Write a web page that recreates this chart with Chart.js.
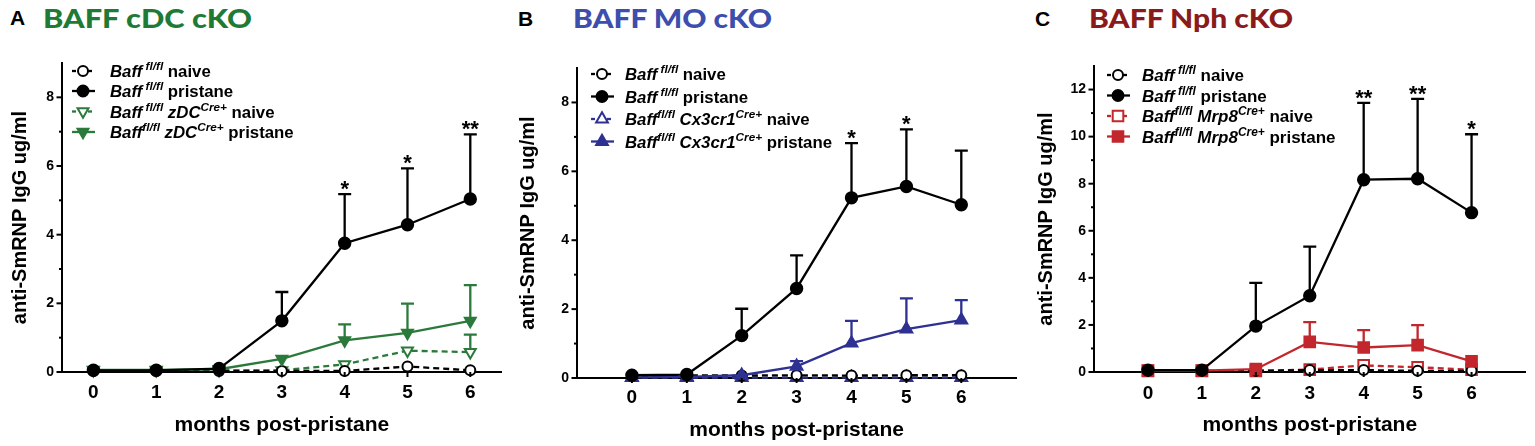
<!DOCTYPE html>
<html><head><meta charset="utf-8">
<script src="https://cdn.jsdelivr.net/npm/chart.js@4.4.1/dist/chart.umd.min.js"></script>
<style>
html,body{margin:0;padding:0;background:#fff;width:1535px;height:446px;overflow:hidden;position:relative}
canvas{position:absolute;top:0}
.lt{position:absolute;font-family:"Liberation Sans",Arial,sans-serif;font-weight:bold;font-size:21px;line-height:21px;color:#000;white-space:nowrap}
.tt{position:absolute;font-family:Lato,"Open Sans",sans-serif;font-weight:900;font-size:27px;line-height:27px;white-space:nowrap;transform-origin:0 0}
</style></head><body>
<div class="lt" style="left:10px;top:7px">A</div>
<div class="tt" id="tA" data-w="209" style="left:43px;top:4px;color:#1f7a36">BAFF cDC cKO</div>
<div class="lt" style="left:518px;top:8px">B</div>
<div class="tt" id="tB" data-w="199" style="left:573px;top:4px;color:#3d4eac">BAFF MO cKO</div>
<div class="lt" style="left:1035px;top:8px">C</div>
<div class="tt" id="tC" data-w="204" style="left:1089px;top:4px;color:#8b1a1a">BAFF Nph cKO</div>

<canvas id="cA" width="510" height="446" style="left:0px"></canvas>
<canvas id="cB" width="515" height="446" style="left:510px"></canvas>
<canvas id="cC" width="510" height="446" style="left:1025px"></canvas>

<script>
// ---------------- DATA ----------------
const months = [0, 1, 2, 3, 4, 5, 6];
const xTicks = [0, 1, 2, 3, 4, 5, 6];

// Panel A : BAFF cDC cKO
const A_wtNaive      = [0.03, 0.03, 0.03, 0.03, 0.03, 0.16, 0.05];
const A_wtNaiveErr   = [0, 0, 0, 0, 0, 0, 0];
const A_wtPristane   = [0.05, 0.05, 0.10, 1.49, 3.75, 4.29, 5.04];
const A_wtPristErr   = [0, 0, 0, 0.84, 1.43, 1.64, 1.88];
const A_koNaive      = [0.05, 0.05, 0.05, 0.05, 0.22, 0.62, 0.58];
const A_koNaiveErr   = [0, 0, 0, 0, 0, 0, 0.51];
const A_koPristane   = [0.06, 0.06, 0.08, 0.38, 0.92, 1.14, 1.49];
const A_koPristErr   = [0, 0, 0, 0, 0.47, 0.85, 1.04];
const A_stars        = ['', '', '', '', '*', '*', '**'];
const A_yMajor       = [0, 2, 4, 6, 8];
const A_yMinor       = [1, 3, 5, 7];

// Panel B : BAFF MO cKO
const B_wtNaive      = [0.08, 0.08, 0.07, 0.08, 0.07, 0.08, 0.08];
const B_wtNaiveErr   = [0, 0, 0, 0, 0, 0, 0];
const B_wtPristane   = [0.08, 0.10, 1.23, 2.60, 5.23, 5.56, 5.03];
const B_wtPristErr   = [0, 0, 0.78, 0.96, 1.59, 1.66, 1.57];
const B_koNaive      = [0.01, 0.01, 0.01, 0.01, 0.01, 0.01, 0.01];
const B_koNaiveErr   = [0, 0, 0, 0, 0, 0, 0];
const B_koPristane   = [0.02, 0.03, 0.08, 0.34, 1.01, 1.42, 1.68];
const B_koPristErr   = [0, 0, 0, 0.15, 0.65, 0.89, 0.58];
const B_stars        = ['', '', '', '', '*', '*', ''];
const B_yMajor       = [0, 2, 4, 6, 8];
const B_yMinor       = [1, 3, 5, 7];

// Panel C : BAFF Nph cKO
const C_wtNaive      = [0.05, 0.05, 0.05, 0.08, 0.08, 0.05, 0.05];
const C_wtNaiveErr   = [0, 0, 0, 0, 0, 0, 0];
const C_wtPristane   = [0.08, 0.08, 1.95, 3.24, 8.17, 8.21, 6.77];
const C_wtPristErr   = [0, 0, 1.84, 2.09, 3.26, 3.39, 3.33];
const C_koNaive      = [0.05, 0.05, 0.05, 0.10, 0.28, 0.20, 0.10];
const C_koNaiveErr   = [0, 0, 0, 0, 0, 0, 0];
const C_koPristane   = [0.06, 0.06, 0.12, 1.28, 1.04, 1.14, 0.45];
const C_koPristErr   = [0, 0, 0, 0.84, 0.74, 0.85, 0];
const C_stars        = ['', '', '', '', '**', '**', '*'];
const C_yMajor       = [0, 2, 4, 6, 8, 10, 12];
const C_yMinor       = [1, 3, 5, 7, 9, 11];

// Legend texts ([text, style]; i = italic, s = superscript italic, n = normal)
const A_legend = [
  [['Baff','i'],[' fl/fl','s'],[' naive','n']],
  [['Baff','i'],[' fl/fl','s'],[' pristane','n']],
  [['Baff','i'],[' fl/fl','s'],[' zDC','i'],['Cre+','s'],[' naive','n']],
  [['Baff','i'],['fl/fl','s'],[' zDC','i'],['Cre+','s'],[' pristane','n']]
];
const B_legend = [
  [['Baff','i'],[' fl/fl','s'],[' naive','n']],
  [['Baff','i'],[' fl/fl','s'],[' pristane','n']],
  [['Baff','i'],['fl/fl','s'],[' Cx3cr1','i'],['Cre+','s'],[' naive','n']],
  [['Baff','i'],['fl/fl','s'],[' Cx3cr1','i'],['Cre+','s'],[' pristane','n']]
];
const C_legend = [
  [['Baff','i'],[' fl/fl','s'],[' naive','n']],
  [['Baff','i'],[' fl/fl','s'],[' pristane','n']],
  [['Baff','i'],['fl/fl','s'],[' Mrp8','i'],['Cre+','s'],[' naive','n']],
  [['Baff','i'],['fl/fl','s'],[' Mrp8','i'],['Cre+','s'],[' pristane','n']]
];

const X_TITLE = 'months post-pristane';
const Y_TITLE = 'anti-SmRNP IgG ug/ml';

// ---------------- STYLE / LAYOUT ----------------
const FONT = '"Liberation Sans", Arial, sans-serif';
const GREEN = '#2b7a3b', BLUE = '#2e3192', RED = '#c1272d', BLACK = '#000000';
const LW = 2.3;

const panels = {
  cA: {
    color: GREEN, koStyle: 'triangle', koRot: 180, koR: 6.3,
    wtN: A_wtNaive, wtNE: A_wtNaiveErr, wtP: A_wtPristane, wtPE: A_wtPristErr,
    koN: A_koNaive, koNE: A_koNaiveErr, koP: A_koPristane, koPE: A_koPristErr,
    stars: A_stars, yMajor: A_yMajor, yMinor: A_yMinor, legend: A_legend, legSize: 16.8,
    xMin: -0.5, xMax: 6.5, yMax: 9,
    padTop: 63, padRight: 8, yW: 62, xH: 74, xTickPad: 9, xTitlePad: 8, yTitlePad: 8,
    legX: 83, legTX: 110, legY: [71, 91, 111.5, 132]
  },
  cB: {
    color: BLUE, koStyle: 'triangle', koRot: 0, koR: 6.8,
    wtN: B_wtNaive, wtNE: B_wtNaiveErr, wtP: B_wtPristane, wtPE: B_wtPristErr,
    koN: B_koNaive, koNE: B_koNaiveErr, koP: B_koPristane, koPE: B_koPristErr,
    stars: B_stars, yMajor: B_yMajor, yMinor: B_yMinor, legend: B_legend, legSize: 16.8,
    xMin: -1, xMax: 7, yMax: 9,
    padTop: 68, padRight: 7, yW: 67, xH: 68, xTickPad: 8.5, xTitlePad: 3, yTitlePad: 6,
    legX: 92, legTX: 115, legY: [74, 96.5, 119, 141.5]
  },
  cC: {
    color: RED, koStyle: 'rect', koRot: 0, koR: 7.5,
    wtN: C_wtNaive, wtNE: C_wtNaiveErr, wtP: C_wtPristane, wtPE: C_wtPristErr,
    koN: C_koNaive, koNE: C_koNaiveErr, koP: C_koPristane, koPE: C_koPristErr,
    stars: C_stars, yMajor: C_yMajor, yMinor: C_yMinor, legend: C_legend, legSize: 17,
    xMin: -1, xMax: 7, yMax: 13,
    padTop: 66, padRight: 8, yW: 69, xH: 74, xTickPad: 10, xTitlePad: 8, yTitlePad: 9.5,
    legX: 93, legTX: 117, legY: [75, 95.5, 116, 136.5]
  }
};

function pts(vals) { return months.map((m, i) => ({ x: m, y: vals[i] })); }

function drawMarker(ctx, style, rot, r, x, y, color, filled) {
  ctx.save();
  ctx.setLineDash([]);
  ctx.lineWidth = 2;
  ctx.strokeStyle = color;
  ctx.fillStyle = filled ? color : '#ffffff';
  Chart.helpers.drawPoint(ctx, { pointStyle: style, rotation: rot, radius: r, borderWidth: 2 }, x, y);
  ctx.restore();
}

const decor = {
  id: 'decor',
  beforeDatasetsDraw(chart) {
    const P = panels[chart.canvas.id];
    const { ctx, scales: { x, y } } = chart;
    const series = [[P.wtN, P.wtNE, BLACK], [P.koN, P.koNE, P.color], [P.koP, P.koPE, P.color], [P.wtP, P.wtPE, BLACK]];
    ctx.save();
    ctx.lineWidth = LW;
    ctx.setLineDash([]);
    series.forEach(([vals, errs, col]) => {
      ctx.strokeStyle = col;
      errs.forEach((e, i) => {
        if (!e) return;
        const px = x.getPixelForValue(months[i]);
        const p0 = y.getPixelForValue(vals[i]);
        const p1 = y.getPixelForValue(vals[i] + e);
        ctx.beginPath();
        ctx.moveTo(px, p0); ctx.lineTo(px, p1);
        ctx.moveTo(px - 6.5, p1); ctx.lineTo(px + 6.5, p1);
        ctx.stroke();
      });
    });
    ctx.restore();
  },
  afterDraw(chart) {
    const P = panels[chart.canvas.id];
    const { ctx, chartArea: ca, scales: { x, y } } = chart;
    ctx.save();
    ctx.strokeStyle = '#000';
    ctx.lineWidth = 2;
    ctx.setLineDash([]);
    // tick marks
    xTicks.forEach(v => {
      const px = x.getPixelForValue(v);
      ctx.beginPath(); ctx.moveTo(px, ca.bottom); ctx.lineTo(px, ca.bottom + 5); ctx.stroke();
    });
    P.yMajor.forEach(v => {
      const py = y.getPixelForValue(v);
      ctx.beginPath(); ctx.moveTo(ca.left - 5.5, py); ctx.lineTo(ca.left, py); ctx.stroke();
    });
    P.yMinor.forEach(v => {
      const py = y.getPixelForValue(v);
      ctx.beginPath(); ctx.moveTo(ca.left - 3, py); ctx.lineTo(ca.left, py); ctx.stroke();
    });
    // significance stars
    ctx.fillStyle = '#000';
    ctx.font = 'bold 22px ' + FONT;
    ctx.textAlign = 'center';
    ctx.textBaseline = 'alphabetic';
    P.stars.forEach((s, i) => {
      if (!s) return;
      const px = x.getPixelForValue(months[i]);
      const py = y.getPixelForValue(P.wtP[i] + P.wtPE[i]);
      ctx.fillText(s, px, py + 2);
    });
    // legend
    const styles = [
      { col: BLACK, st: 'circle', rot: 0, r: 5, fill: false, dash: true },
      { col: BLACK, st: 'circle', rot: 0, r: 5.5, fill: true, dash: false },
      { col: P.color, st: P.koStyle, rot: P.koRot, r: P.koR, fill: false, dash: true },
      { col: P.color, st: P.koStyle, rot: P.koRot, r: P.koR, fill: true, dash: false }
    ];
    ctx.textAlign = 'left';
    const fs = P.legSize, ss = fs * 0.7;
    P.legend.forEach((parts, k) => {
      const s = styles[k];
      const ly = P.legY[k];
      ctx.save();
      ctx.strokeStyle = s.col; ctx.lineWidth = LW;
      ctx.setLineDash(s.dash ? [4, 4] : []);
      ctx.beginPath(); ctx.moveTo(P.legX - 11, ly); ctx.lineTo(P.legX + 12, ly); ctx.stroke();
      ctx.restore();
      drawMarker(ctx, s.st, s.rot, s.r, P.legX, ly, s.col, s.fill);
      let tx = P.legTX;
      const base = ly + fs * 0.36;
      parts.forEach(([t, st]) => {
        if (st === 's') {
          ctx.font = 'italic bold ' + ss + 'px ' + FONT;
          ctx.fillText(t, tx, base - fs * 0.4);
        } else {
          ctx.font = (st === 'i' ? 'italic ' : '') + 'bold ' + fs + 'px ' + FONT;
          ctx.fillText(t, tx, base);
        }
        tx += ctx.measureText(t).width;
      });
    });
    ctx.restore();
  }
};

function makeChart(id) {
  const P = panels[id];
  const ds = (vals, color, style, rot, r, filled, dashed, order) => ({
    data: pts(vals),
    borderColor: color,
    borderWidth: LW,
    borderDash: dashed ? [6, 4] : [],
    pointStyle: style,
    pointRotation: rot,
    pointRadius: r,
    pointBorderWidth: 2,
    pointBorderColor: color,
    pointBackgroundColor: filled ? color : '#ffffff',
    fill: false,
    tension: 0,
    clip: false,
    order: order
  });
  new Chart(document.getElementById(id), {
    type: 'line',
    data: {
      datasets: [
        ds(P.wtP, BLACK, 'circle', 0, 5.7, true, false, 0),
        ds(P.koP, P.color, P.koStyle, P.koRot, P.koR, true, false, 1),
        ds(P.wtN, BLACK, 'circle', 0, 5, false, true, 2),
        ds(P.koN, P.color, P.koStyle, P.koRot, P.koR, false, true, 3)
      ]
    },
    options: {
      responsive: false,
      animation: false,
      layout: { padding: { top: P.padTop, right: P.padRight, left: 0, bottom: 0 } },
      plugins: { legend: { display: false }, tooltip: { enabled: false }, title: { display: false } },
      scales: {
        x: {
          type: 'linear', min: P.xMin, max: P.xMax,
          afterBuildTicks: s => { s.ticks = xTicks.map(v => ({ value: v })); },
          afterFit: s => { s.height = P.xH; },
          grid: { display: false, drawTicks: false },
          border: { display: true, color: '#000', width: 2 },
          ticks: { padding: P.xTickPad, color: '#000', autoSkip: false, maxRotation: 0,
                   font: { family: FONT, size: 19, weight: 'bold' } },
          title: { display: true, text: X_TITLE, color: '#000',
                   font: { family: FONT, size: 21, weight: 'bold' }, padding: { top: 0, bottom: P.xTitlePad } }
        },
        y: {
          type: 'linear', min: 0, max: P.yMax,
          afterBuildTicks: s => { s.ticks = P.yMajor.map(v => ({ value: v })); },
          afterFit: s => { s.width = P.yW; },
          grid: { display: false, drawTicks: false },
          border: { display: true, color: '#000', width: 2 },
          ticks: { padding: 8, color: '#000', font: { family: FONT, size: 14, weight: 'bold' } },
          title: { display: true, text: Y_TITLE, color: '#000',
                   font: { family: FONT, size: 20, weight: 'bold' }, padding: { top: P.yTitlePad, bottom: 0 } }
        }
      }
    },
    plugins: [decor]
  });
}

['cA', 'cB', 'cC'].forEach(makeChart);

function fitTitles() {
  document.querySelectorAll('.tt').forEach(el => {
    el.style.transform = 'none';
    const w = el.getBoundingClientRect().width;
    const target = parseFloat(el.dataset.w);
    el.style.transform = 'scaleX(' + (target / w).toFixed(4) + ')';
  });
}
fitTitles();
if (document.fonts && document.fonts.ready) document.fonts.ready.then(fitTitles);
</script>
</body></html>
